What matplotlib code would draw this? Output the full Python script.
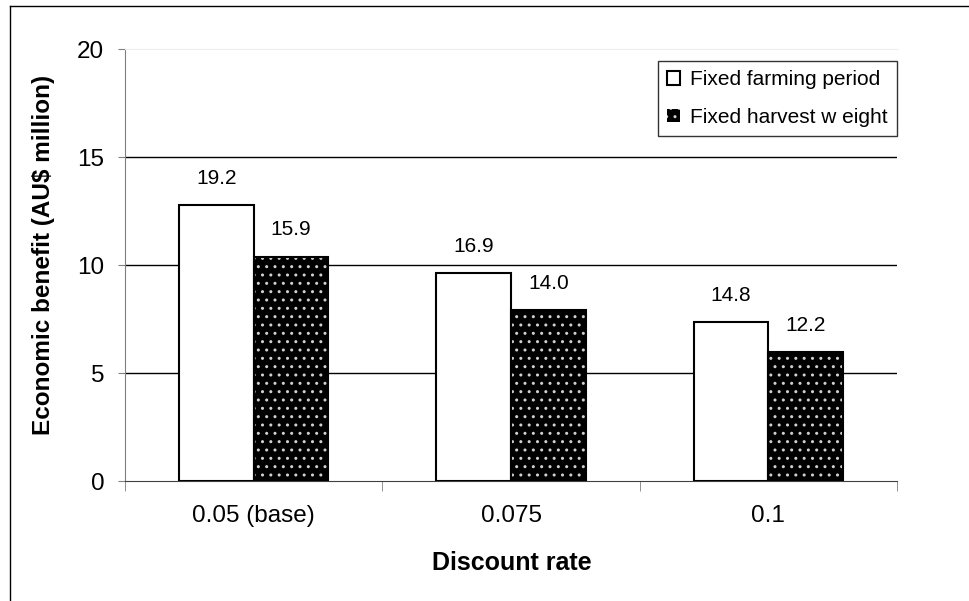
import matplotlib.pyplot as plt
import matplotlib.lines as mlines
import numpy as np

plt.rcParams['font.family'] = ['Liberation Sans', 'DejaVu Sans']

# Discount-rate scenarios and the two harvest strategies
categories = ['0.05 (base)', '0.075', '0.1']
series_names = ['Fixed farming period', 'Fixed harvest w eight']
farming_period = [12.78, 9.63, 7.36]
harvest_weight = [10.40, 7.91, 5.98]
# printed annotations above each bar
farming_labels = ['19.2', '16.9', '14.8']
harvest_labels = ['15.9', '14.0', '12.2']

W, H = 969, 601
fig = plt.figure(figsize=(W / 100, H / 100), dpi=100)
ax = fig.add_axes([125 / W, 1 - 481.3 / H, 772 / W, 432 / H])

# chart frame: only the left and top edges are inside the image
fig.lines.append(mlines.Line2D([9.5 / W, 9.5 / W], [0, 1 - 5.5 / H],
                               transform=fig.transFigure, color='black', lw=1))
fig.lines.append(mlines.Line2D([9.5 / W, 1], [1 - 5.5 / H, 1 - 5.5 / H],
                               transform=fig.transFigure, color='black', lw=1))

x = np.arange(len(categories))
w = 0.29

ax.bar(x - w / 2, farming_period, w, color='white', edgecolor='black',
       linewidth=1.5, zorder=3, label=series_names[0])
# black bars with light dot pattern, then a black outline on top
ax.bar(x + w / 2, harvest_weight, w, color='black', edgecolor='#d0d0d0',
       linewidth=0, hatch='..', zorder=3, label=series_names[1])
ax.bar(x + w / 2, harvest_weight, w, fill=False, edgecolor='black',
       linewidth=1.5, zorder=4)

for xi, h, s in zip(x - w / 2, farming_period, farming_labels):
    ax.annotate(s, (xi, h), xytext=(0, 19.5), textcoords='offset points',
                ha='center', va='center', fontsize=15)
for xi, h, s in zip(x + w / 2, harvest_weight, harvest_labels):
    ax.annotate(s, (xi, h), xytext=(0, 19.5), textcoords='offset points',
                ha='center', va='center', fontsize=15)

ax.set_ylim(0, 20)
ax.set_xlim(-0.5, 2.5)
ax.set_yticks([0, 5, 10, 15, 20])
ax.set_xticks(x)
ax.set_xticklabels(categories)
ax.set_xticks([-0.5, 0.5, 1.5, 2.5], minor=True)

for yv in [5, 10, 15]:
    ax.axhline(yv, color='black', linewidth=1, zorder=1)

ax.tick_params(axis='y', direction='out', length=5, color='#808080',
               labelsize=17.5, pad=10)
ax.tick_params(axis='x', which='major', length=0, labelsize=17.5, pad=17)
ax.tick_params(axis='x', which='minor', direction='out', length=7,
               color='#808080')

ax.spines['left'].set_color('#808080')
ax.spines['bottom'].set_color('#404040')
ax.spines['top'].set_color('#eeeeee')
ax.spines['right'].set_visible(False)

fig.text(512 / W, 1 - 563 / H, 'Discount rate', fontsize=18,
         fontweight='bold', ha='center', va='center')
fig.text(44 / W, 1 - 254.5 / H, 'Economic benefit (AU$ million)',
         fontsize=17.5, fontweight='bold', rotation=90,
         ha='center', va='center')

leg = ax.legend(loc='upper right', bbox_to_anchor=(1.0, 0.973),
                borderaxespad=0, fontsize=15, frameon=True, fancybox=False,
                handlelength=0.6, handleheight=0.6, handletextpad=0.5,
                borderpad=0.45, labelspacing=0.9)
leg.get_frame().set_edgecolor('black')
leg.get_frame().set_linewidth(1)

fig.savefig('out.png', dpi=100)
